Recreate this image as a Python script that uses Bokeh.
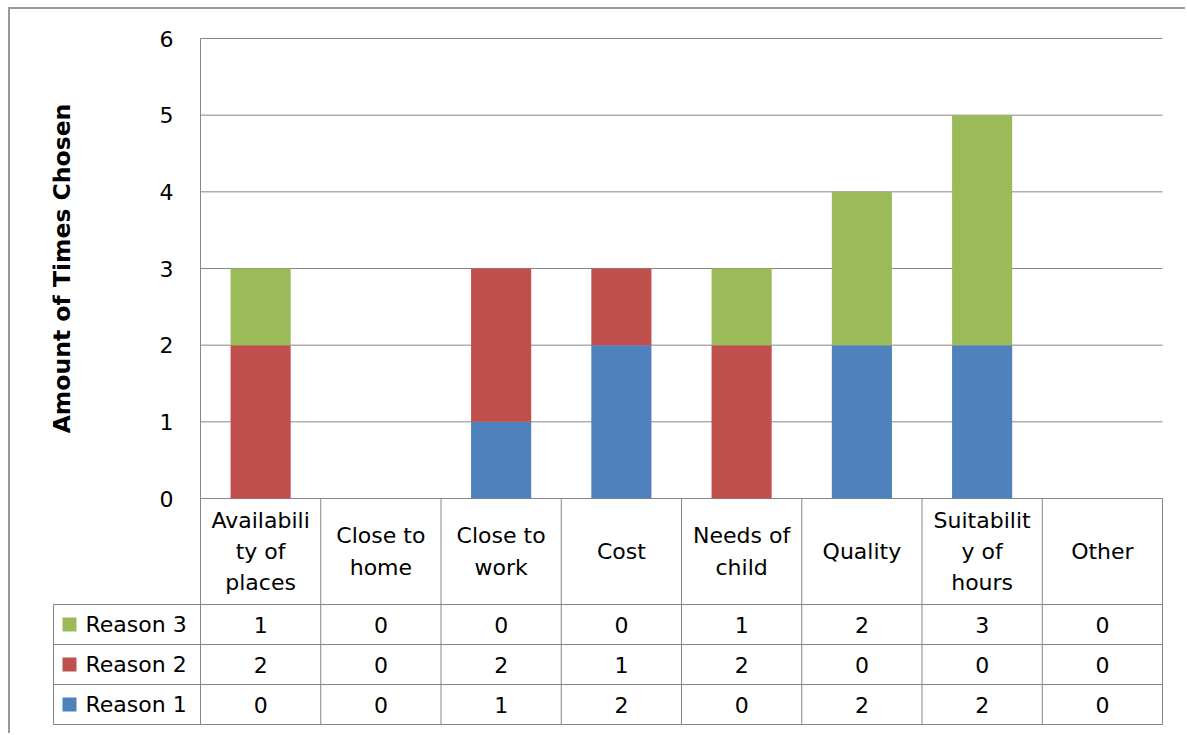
import math
from bokeh.plotting import figure
from bokeh.models import ColumnDataSource, Range1d, FixedTicker, Label
from bokeh.layouts import column
from bokeh.embed import file_html
from bokeh.resources import INLINE
from bokeh.core.properties import value

# ---------------- data ----------------
categories = ["Availability of places", "Close to home", "Close to work", "Cost",
              "Needs of child", "Quality", "Suitability of hours", "Other"]
header_labels = ["Availabili\nty of\nplaces", "Close to\nhome", "Close to\nwork", "Cost",
                 "Needs of\nchild", "Quality", "Suitabilit\ny of\nhours", "Other"]
reason1 = [0, 0, 1, 2, 0, 2, 2, 0]
reason2 = [2, 0, 2, 1, 2, 0, 0, 0]
reason3 = [1, 0, 0, 0, 1, 2, 3, 0]
series_names = ["Reason 1", "Reason 2", "Reason 3"]
series_colors = ["#4F81BD", "#C0504D", "#9BBB59"]
y_ticks = [0, 1, 2, 3, 4, 5, 6]
y_title = "Amount of Times Chosen"

# ---------------- layout constants (pixels) ----------------
FONT = "DejaVu Sans"
FS = "22px"
LINE = "#868686"
n = len(categories)
PPX = 120.25          # pixels per category
PPY = 460 / 6.0       # pixels per unit of value
HEADER_PX = 106
ROW_PX = 40
LEFT_COL_PX = 147
TOP_PAD_PX = 13
W, H = 1175, 724
MB_LEFT, MB_TOP = 42, 16
FRAME_W, FRAME_H = 1112, 701

x_start = -(200 - 52) / PPX
x_end = x_start + FRAME_W / PPX
y_end = 6 + TOP_PAD_PX / PPY
y_start = y_end - FRAME_H / PPY

centers = [k + 0.5 for k in range(n)]
series = [reason1, reason2, reason3]
header_bottom = -HEADER_PX / PPY
row_lines = [-(HEADER_PX + ROW_PX * k) / PPY for k in range(4)]
table_bottom = row_lines[-1]
row_centers = [-(HEADER_PX + ROW_PX * k + ROW_PX / 2) / PPY for k in range(3)]
left_edge = -LEFT_COL_PX / PPX

src = ColumnDataSource(dict(x=centers, r1=reason1, r2=reason2, r3=reason3))

p = figure(width=W, height=H, x_range=Range1d(x_start, x_end),
           y_range=Range1d(y_start, y_end), output_backend="svg", toolbar_location=None,
           x_axis_location=None, min_border_left=MB_LEFT,
           min_border_right=W - MB_LEFT - FRAME_W, min_border_top=MB_TOP,
           min_border_bottom=H - MB_TOP - FRAME_H)
p.outline_line_color = None
p.grid.visible = False

ax = p.yaxis[0]
ax.fixed_location = 0
ax.ticker = FixedTicker(ticks=y_ticks)
ax.major_tick_line_color = None
ax.minor_tick_line_color = None
ax.axis_line_color = None
ax.major_label_text_font = FONT
ax.major_label_text_font_size = FS
ax.major_label_text_color = "black"
ax.major_label_standoff = 21

# value gridlines across the plot area
p.segment(x0=[0] * len(y_ticks), y0=y_ticks, x1=[n] * len(y_ticks), y1=y_ticks,
          line_color=LINE, line_width=1)
# value axis line (continues down as the table's left edge)
p.segment(x0=[0], y0=[max(y_ticks)], x1=[0], y1=[table_bottom],
          line_color=LINE, line_width=1)

# stacked bars
p.vbar_stack(["r1", "r2", "r3"], x="x", width=0.5, color=series_colors,
             line_color=None, source=src)

# data table grid
bounds = list(range(1, n + 1))
p.segment(x0=bounds, y0=[0] * len(bounds), x1=bounds, y1=[table_bottom] * len(bounds),
          line_color=LINE, line_width=1)
p.segment(x0=[left_edge], y0=[header_bottom], x1=[left_edge], y1=[table_bottom],
          line_color=LINE, line_width=1)
p.segment(x0=[left_edge] * 4, y0=row_lines, x1=[n] * 4, y1=row_lines,
          line_color=LINE, line_width=1)

# header (category) labels
p.text(x=centers, y=[header_bottom / 2] * n, text=header_labels,
       text_align="center", text_baseline="middle", text_font=value(FONT),
       text_font_size=FS, text_color="black", text_line_height=1.25)

# legend keys in the table (Reason 3 on top)
ry = list(reversed(row_centers))   # series index i -> row y
p.scatter(x=[left_edge + 16 / PPX] * 3, y=ry, marker="square", size=14,
          color=series_colors, line_color=None)
p.text(x=[left_edge + 32 / PPX] * 3, y=ry, text=series_names,
       text_align="left", text_baseline="middle", text_font=value(FONT),
       text_font_size=FS, text_color="black")

tx, ty, tt = [], [], []
for i, vals in enumerate(series):
    for k, v in enumerate(vals):
        tx.append(centers[k]); ty.append(ry[i]); tt.append(str(v))
p.text(x=tx, y=ty, text=tt, text_align="center", text_baseline="middle",
       text_font=value(FONT), text_font_size=FS, text_color="black")

# axis title
p.add_layout(Label(x=-(200 - 61) / PPX, y=3, text=y_title, angle=math.pi / 2,
                   text_align="center", text_baseline="middle", text_font=FONT,
                   text_font_size="23.5px", text_font_style="bold", text_color="black"))

layout = column(p, styles={"margin-left": "8px", "margin-top": "7px",
                           "border-left": "2px solid #999999",
                           "border-top": "2px solid #999999"})

open("out.html", "w").write(file_html(layout, INLINE))
